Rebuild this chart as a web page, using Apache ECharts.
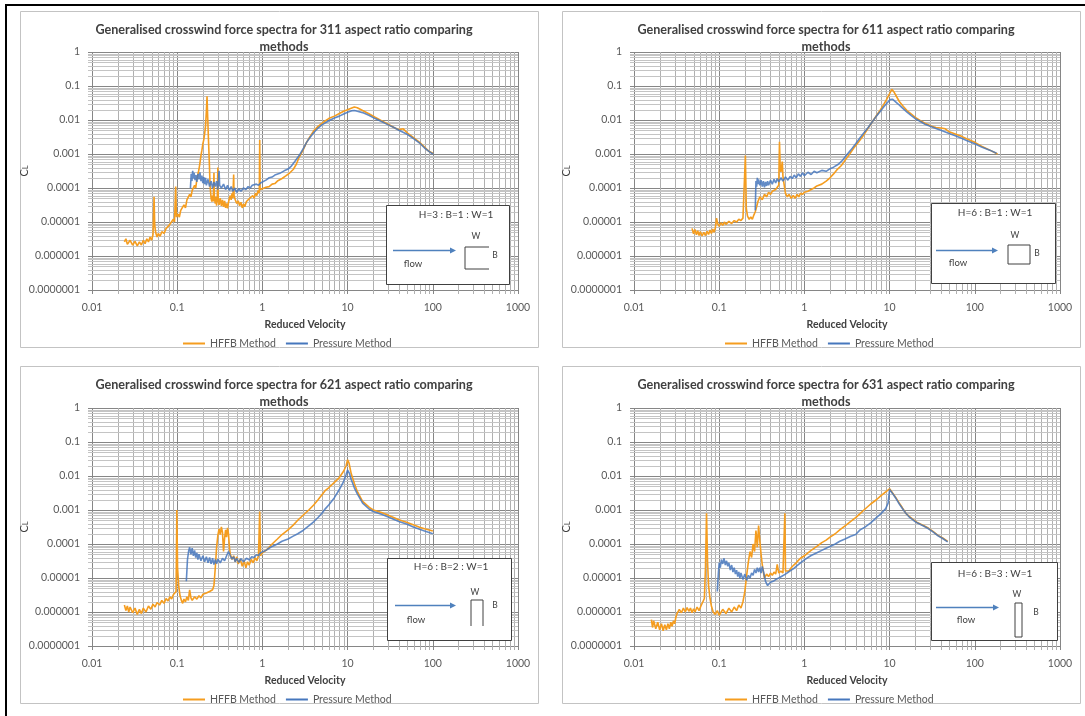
<!DOCTYPE html>
<html><head><meta charset="utf-8">
<script src="https://cdn.jsdelivr.net/npm/echarts@6/dist/echarts.min.js"></script>
<style>html,body{margin:0;padding:0;background:#fff}#c{width:1085px;height:716px}</style>
</head><body><div id="c"></div>
<script>
// ---------------- data ----------------
const xTickLabels = ['0.01','0.1','1','10','100','1000'];
const yTickLabels = ['0.0000001','0.000001','0.00001','0.0001','0.001','0.01','0.1','1'];
const legendNames = ['HFFB Method','Pressure Method'];
const panelTitles = [
  'Generalised crosswind force spectra for 311 aspect ratio comparing\nmethods',
  'Generalised crosswind force spectra for 611 aspect ratio comparing\nmethods',
  'Generalised crosswind force spectra for 621 aspect ratio comparing\nmethods',
  'Generalised crosswind force spectra for 631 aspect ratio comparing\nmethods'
];
const ratioLabels = ['H=3 : B=1 : W=1','H=6 : B=1 : W=1','H=6 : B=2 : W=1','H=6 : B=3 : W=1'];

const p1Hffb = [[0.024,2.6e-6],[0.025,3.2e-6],[0.026,2.2e-6],[0.028,2.9e-6],[0.030,2.1e-6],[0.032,2.7e-6],[0.034,2.0e-6],[0.036,2.6e-6],[0.038,2.1e-6],[0.040,2.9e-6],[0.042,2.3e-6],[0.044,3.2e-6],[0.046,2.6e-6],[0.048,3.6e-6],[0.050,2.9e-6],[0.052,4.2e-6],[0.0535,5.5e-5],[0.0545,8e-6],[0.056,4.8e-6],[0.058,3.6e-6],[0.060,4.6e-6],[0.063,3.8e-6],[0.066,5.2e-6],[0.070,4.6e-6],[0.074,6.4e-6],[0.078,5.8e-6],[0.082,8.5e-6],[0.086,7.5e-6],[0.090,1.2e-5],[0.093,1.0e-5],[0.096,1.1e-4],[0.098,1.4e-5],[0.102,1.7e-5],[0.106,1.4e-5],[0.110,2.2e-5],[0.115,2.0e-5],[0.120,3.2e-5],[0.125,2.6e-5],[0.130,4.5e-5],[0.135,4.0e-5],[0.140,6.5e-5],[0.145,5.5e-5],[0.150,8.5e-5],[0.155,7.5e-5],[0.160,1.2e-4],[0.165,1.0e-4],[0.170,1.8e-4],[0.175,2.5e-4],[0.180,3.5e-4],[0.185,5.5e-4],[0.190,9e-4],[0.195,1.3e-3],[0.200,2.0e-3],[0.205,2.6e-3],[0.210,4.0e-3],[0.215,6.5e-3],[0.220,0.018],[0.224,0.05],[0.228,0.012],[0.233,2.5e-3],[0.238,6e-4],[0.243,1.2e-4],[0.250,5e-5],[0.255,4e-5],[0.260,6e-5],[0.265,4e-5],[0.270,2.8e-4],[0.273,5e-5],[0.280,3.5e-5],[0.285,5.5e-5],[0.290,3e-5],[0.295,4.5e-5],[0.300,4.0e-4],[0.303,5e-5],[0.310,3.2e-5],[0.320,5e-5],[0.330,3.0e-5],[0.340,4.5e-5],[0.350,2.8e-5],[0.360,4.2e-5],[0.370,2.6e-5],[0.380,3.5e-5],[0.390,2.5e-5],[0.400,3.8e-5],[0.410,5e-5],[0.420,6e-5],[0.430,4.5e-5],[0.440,7e-5],[0.450,5e-5],[0.460,2.5e-4],[0.465,6e-5],[0.480,4.5e-5],[0.500,3.5e-5],[0.520,4.2e-5],[0.540,3.0e-5],[0.560,3.8e-5],[0.580,2.6e-5],[0.600,3.4e-5],[0.620,2.8e-5],[0.650,4e-5],[0.680,3.5e-5],[0.710,5e-5],[0.740,4.5e-5],[0.770,6e-5],[0.800,5e-5],[0.830,7e-5],[0.860,6e-5],[0.890,8.5e-5],[0.920,7e-5],[0.930,2.6e-3],[0.940,9e-5],[0.970,8e-5],[1.0,9.5e-5],[1.05,8.5e-5],[1.1,1.05e-4],[1.2,1.1e-4],[1.3,1.3e-4],[1.4,1.35e-4],[1.5,1.6e-4],[1.7,1.9e-4],[1.9,2.3e-4],[2.1,2.8e-4],[2.3,3.5e-4],[2.5,5e-4],[2.7,8e-4],[3.0,1.3e-3],[3.3,2.2e-3],[3.6,3.2e-3],[4.0,4.8e-3],[4.5,6.5e-3],[5.0,8e-3],[5.5,9.5e-3],[6.0,0.011],[7.0,0.013],[8.0,0.0155],[9.0,0.018],[10,0.02],[11,0.022],[12,0.024],[13,0.023],[15,0.019],[18,0.015],[21,0.012],[25,0.0095],[30,0.0075],[35,0.006],[40,0.0052],[45,0.0055],[50,0.0042],[60,0.003],[70,0.0022],[80,0.0016],[90,0.0012],[100,0.00105]];

const p1Press = [[0.143,1.0e-4],[0.146,2.6e-4],[0.149,1.6e-4],[0.152,3.2e-4],[0.155,1.9e-4],[0.158,2.8e-4],[0.162,1.7e-4],[0.166,2.4e-4],[0.170,1.5e-4],[0.175,2.6e-4],[0.180,1.8e-4],[0.185,2.9e-4],[0.190,1.6e-4],[0.195,2.3e-4],[0.200,1.4e-4],[0.205,2.1e-4],[0.210,1.3e-4],[0.215,2.0e-4],[0.220,1.2e-4],[0.230,1.8e-4],[0.240,1.1e-4],[0.250,1.6e-4],[0.260,1.0e-4],[0.270,1.5e-4],[0.280,1.1e-4],[0.290,1.6e-4],[0.300,9e-5],[0.310,3.2e-4],[0.315,1.2e-4],[0.330,1.0e-4],[0.350,1.3e-4],[0.370,9e-5],[0.390,1.2e-4],[0.410,8.5e-5],[0.430,1.1e-4],[0.450,8e-5],[0.470,1.0e-4],[0.500,7.5e-5],[0.530,9.5e-5],[0.560,8e-5],[0.600,1.0e-4],[0.640,9e-5],[0.680,1.1e-4],[0.720,1.0e-4],[0.760,1.2e-4],[0.800,1.1e-4],[0.850,1.3e-4],[0.900,1.2e-4],[0.950,1.4e-4],[1.0,1.5e-4],[1.1,1.7e-4],[1.2,2.0e-4],[1.3,2.1e-4],[1.4,2.4e-4],[1.6,2.7e-4],[1.8,3.2e-4],[2.0,3.6e-4],[2.2,4.5e-4],[2.4,6e-4],[2.7,9e-4],[3.0,1.4e-3],[3.3,2.2e-3],[3.6,3.0e-3],[4.0,4.2e-3],[4.5,5.8e-3],[5.0,7.2e-3],[6.0,9.5e-3],[7.0,0.0115],[8.0,0.013],[9.0,0.015],[10,0.017],[11,0.0185],[12,0.019],[13,0.018],[15,0.0165],[18,0.0135],[21,0.011],[25,0.009],[30,0.0072],[35,0.006],[40,0.005],[50,0.0038],[60,0.0028],[70,0.0021],[80,0.0015],[90,0.0012],[100,0.001]];

const p2Hffb = [[0.048,6.5e-6],[0.050,4.5e-6],[0.052,6.0e-6],[0.054,4.2e-6],[0.056,5.5e-6],[0.058,4.0e-6],[0.060,5.2e-6],[0.063,3.9e-6],[0.066,5.0e-6],[0.069,4.0e-6],[0.072,5.3e-6],[0.075,4.3e-6],[0.078,5.8e-6],[0.081,4.6e-6],[0.084,6.2e-6],[0.087,5.0e-6],[0.090,6.5e-6],[0.093,1.3e-5],[0.096,9e-6],[0.100,7.5e-6],[0.105,9.5e-6],[0.110,8e-6],[0.115,1.0e-5],[0.120,8.5e-6],[0.130,1.05e-5],[0.140,9e-6],[0.150,1.1e-5],[0.160,1.0e-5],[0.170,1.2e-5],[0.180,1.1e-5],[0.190,1.3e-5],[0.198,1.4e-5],[0.203,9e-4],[0.208,2.5e-5],[0.215,1.5e-5],[0.225,1.2e-5],[0.235,1.4e-5],[0.245,1.2e-5],[0.255,1.6e-5],[0.265,2.0e-5],[0.275,2.8e-5],[0.285,4e-5],[0.300,5.5e-5],[0.320,4.5e-5],[0.340,6.5e-5],[0.360,5.5e-5],[0.380,7.5e-5],[0.400,6.5e-5],[0.420,8e-5],[0.440,7e-5],[0.460,9e-5],[0.480,8e-5],[0.500,1.2e-4],[0.510,2.3e-3],[0.520,4e-4],[0.530,3e-4],[0.550,6e-4],[0.560,2.2e-4],[0.580,1.2e-4],[0.600,7e-5],[0.630,5.5e-5],[0.660,6.5e-5],[0.700,5e-5],[0.740,6e-5],[0.780,5e-5],[0.820,6.5e-5],[0.860,5.5e-5],[0.900,7e-5],[0.950,6.5e-5],[1.0,7.5e-5],[1.1,8e-5],[1.2,9e-5],[1.3,1.0e-4],[1.4,1.15e-4],[1.6,1.3e-4],[1.8,1.6e-4],[2.0,2.0e-4],[2.2,2.6e-4],[2.4,3.4e-4],[2.7,4.5e-4],[3.0,6.5e-4],[3.4,1.0e-3],[3.8,1.5e-3],[4.3,2.2e-3],[4.8,3.2e-3],[5.4,5.0e-3],[6.0,7.5e-3],[6.8,0.012],[7.6,0.018],[8.4,0.027],[9.2,0.04],[10.0,0.06],[10.6,0.08],[11.2,0.068],[12,0.05],[13,0.035],[14.5,0.025],[16,0.019],[18,0.015],[20,0.012],[23,0.0095],[26,0.008],[30,0.0068],[35,0.006],[40,0.0058],[45,0.0055],[50,0.0045],[60,0.0038],[70,0.0033],[80,0.0028],[100,0.0022],[120,0.0017],[150,0.0013],[185,0.001]];

const p2Press = [[0.265,2.2e-5],[0.270,1.6e-4],[0.275,1.1e-4],[0.280,2.0e-4],[0.285,1.3e-4],[0.290,1.8e-4],[0.300,1.2e-4],[0.310,1.7e-4],[0.320,1.1e-4],[0.330,1.6e-4],[0.340,1.05e-4],[0.350,1.5e-4],[0.360,1.15e-4],[0.370,1.6e-4],[0.380,1.2e-4],[0.400,1.7e-4],[0.420,1.3e-4],[0.440,1.8e-4],[0.460,1.4e-4],[0.480,1.9e-4],[0.500,1.5e-4],[0.530,2.0e-4],[0.560,1.6e-4],[0.600,2.1e-4],[0.640,1.7e-4],[0.680,2.2e-4],[0.720,1.9e-4],[0.760,2.4e-4],[0.800,2.0e-4],[0.850,2.6e-4],[0.900,2.2e-4],[0.950,2.8e-4],[1.0,2.3e-4],[1.1,2.9e-4],[1.2,2.5e-4],[1.3,3.1e-4],[1.4,2.8e-4],[1.6,3.3e-4],[1.8,3.1e-4],[2.0,3.7e-4],[2.2,4.1e-4],[2.5,5e-4],[2.8,6.5e-4],[3.1,9e-4],[3.5,1.3e-3],[4.0,2.0e-3],[4.5,3.0e-3],[5.0,4.2e-3],[5.6,6e-3],[6.3,9e-3],[7.0,0.013],[7.8,0.018],[8.6,0.025],[9.4,0.032],[10.2,0.04],[10.8,0.041],[11.5,0.036],[12.5,0.03],[14,0.023],[16,0.017],[18,0.0135],[20,0.011],[23,0.009],[26,0.0075],[30,0.0065],[35,0.0056],[40,0.005],[50,0.004],[60,0.0034],[70,0.0029],[80,0.0025],[100,0.002],[120,0.0016],[150,0.0013],[180,0.00105]];

const p3Hffb = [[0.024,1.6e-6],[0.025,1.1e-6],[0.026,1.5e-6],[0.027,1.0e-6],[0.028,1.4e-6],[0.030,9.5e-7],[0.032,1.3e-6],[0.034,8.5e-7],[0.036,1.2e-6],[0.038,9e-7],[0.040,1.3e-6],[0.043,1.0e-6],[0.046,1.5e-6],[0.049,1.2e-6],[0.052,1.7e-6],[0.055,1.4e-6],[0.058,1.9e-6],[0.062,1.6e-6],[0.066,2.2e-6],[0.070,1.8e-6],[0.074,2.5e-6],[0.078,2.1e-6],[0.082,2.8e-6],[0.086,2.4e-6],[0.090,3.2e-6],[0.094,2.8e-6],[0.097,4e-6],[0.099,1.0e-3],[0.101,2e-5],[0.104,6e-6],[0.108,3e-6],[0.112,2.2e-6],[0.116,1.8e-6],[0.120,2.4e-6],[0.125,2.0e-6],[0.130,2.8e-6],[0.135,2.2e-6],[0.140,4.5e-6],[0.145,2.6e-6],[0.150,2.2e-6],[0.160,2.8e-6],[0.170,2.4e-6],[0.180,3.0e-6],[0.190,2.6e-6],[0.200,3.3e-6],[0.210,2.9e-6],[0.220,3.6e-6],[0.230,3.2e-6],[0.240,4.0e-6],[0.250,3.6e-6],[0.260,4.5e-6],[0.270,6e-6],[0.280,2e-5],[0.290,8e-5],[0.300,1.8e-4],[0.310,2.8e-4],[0.320,1.9e-4],[0.330,3.2e-4],[0.340,2.2e-4],[0.350,6e-5],[0.360,1.5e-4],[0.370,2.6e-4],[0.380,1.6e-4],[0.390,3.0e-4],[0.400,2.0e-4],[0.410,8e-5],[0.420,5e-5],[0.440,3.5e-5],[0.460,4.5e-5],[0.480,3.0e-5],[0.500,4.2e-5],[0.520,2.6e-5],[0.550,3.6e-5],[0.580,2.2e-5],[0.610,3.2e-5],[0.640,2.0e-5],[0.670,3.0e-5],[0.700,2.4e-5],[0.740,3.5e-5],[0.780,2.8e-5],[0.820,4e-5],[0.860,3.2e-5],[0.900,4.5e-5],[0.930,9e-4],[0.950,4.5e-5],[1.0,5.5e-5],[1.1,6.5e-5],[1.2,8e-5],[1.3,1.0e-4],[1.5,1.4e-4],[1.7,1.9e-4],[2.0,2.6e-4],[2.3,3.6e-4],[2.6,5e-4],[3.0,7e-4],[3.5,1.0e-3],[4.0,1.4e-3],[4.5,2.0e-3],[5.0,2.8e-3],[5.5,3.8e-3],[6.0,4.5e-3],[7.0,6.5e-3],[8.0,0.009],[9.0,0.014],[9.6,0.02],[10.0,0.03],[10.4,0.024],[11,0.012],[12,0.006],[13,0.0035],[15,0.0018],[18,0.0012],[20,0.001],[25,0.00085],[30,0.0007],[40,0.00052],[50,0.00043],[60,0.00036],[70,0.00031],[80,0.00028],[100,0.00024]];

const p3Press = [[0.128,8e-6],[0.132,3.5e-5],[0.136,6e-5],[0.140,8e-5],[0.145,5e-5],[0.150,7.5e-5],[0.155,4.5e-5],[0.160,6.5e-5],[0.165,4e-5],[0.170,5.5e-5],[0.175,3.5e-5],[0.180,5e-5],[0.190,3.2e-5],[0.200,4.5e-5],[0.210,3.0e-5],[0.220,4.2e-5],[0.230,2.8e-5],[0.240,4.0e-5],[0.250,2.6e-5],[0.260,3.8e-5],[0.270,2.5e-5],[0.280,3.5e-5],[0.290,2.6e-5],[0.300,3.6e-5],[0.320,2.8e-5],[0.340,3.8e-5],[0.360,3.2e-5],[0.380,4.5e-5],[0.400,6e-5],[0.420,4.5e-5],[0.440,3.6e-5],[0.460,4.2e-5],[0.480,3.0e-5],[0.500,3.8e-5],[0.530,2.9e-5],[0.560,3.7e-5],[0.600,3.0e-5],[0.650,3.8e-5],[0.700,3.4e-5],[0.750,4.2e-5],[0.800,4.0e-5],[0.850,4.8e-5],[0.900,4.6e-5],[0.950,5.5e-5],[1.0,5.5e-5],[1.1,6.5e-5],[1.2,7.5e-5],[1.3,8.5e-5],[1.5,1.0e-4],[1.7,1.2e-4],[2.0,1.4e-4],[2.3,1.7e-4],[2.6,2.0e-4],[3.0,2.5e-4],[3.5,3.4e-4],[4.0,4.5e-4],[4.5,6e-4],[5.0,8e-4],[5.5,1.1e-3],[6.0,1.4e-3],[7.0,2.3e-3],[8.0,4e-3],[9.0,7e-3],[9.6,0.011],[10.0,0.015],[10.5,0.012],[11,0.008],[12,0.0045],[13,0.003],[15,0.0016],[18,0.00105],[20,0.0009],[25,0.00075],[30,0.00062],[40,0.00046],[50,0.00038],[60,0.00031],[70,0.00027],[80,0.00024],[100,0.0002]];

const p4Hffb = [[0.016,6e-7],[0.0165,3.5e-7],[0.017,5.5e-7],[0.018,3.2e-7],[0.019,5e-7],[0.020,3e-7],[0.021,4.5e-7],[0.022,2.8e-7],[0.023,4.2e-7],[0.024,3e-7],[0.025,4.5e-7],[0.026,3.2e-7],[0.027,5e-7],[0.028,3.8e-7],[0.029,5.5e-7],[0.030,4.5e-7],[0.031,7e-7],[0.032,9e-7],[0.034,1.2e-6],[0.036,9.5e-7],[0.038,1.3e-6],[0.040,1.0e-6],[0.042,1.35e-6],[0.044,1.05e-6],[0.046,1.3e-6],[0.048,9.5e-7],[0.050,1.25e-6],[0.052,1.0e-6],[0.055,1.4e-6],[0.058,1.1e-6],[0.061,1.5e-6],[0.064,1.6e-6],[0.067,2.5e-6],[0.069,2e-5],[0.071,8e-4],[0.073,3e-5],[0.075,6e-6],[0.078,2.5e-6],[0.081,1.5e-6],[0.085,1.0e-6],[0.090,8.5e-7],[0.095,1.1e-6],[0.100,8e-7],[0.110,1.2e-6],[0.120,9e-7],[0.130,1.3e-6],[0.140,1.0e-6],[0.150,1.4e-6],[0.160,1.1e-6],[0.170,1.6e-6],[0.180,1.3e-6],[0.190,2e-6],[0.200,4e-6],[0.210,1.2e-5],[0.220,3e-5],[0.230,6e-5],[0.240,4e-5],[0.250,1.0e-4],[0.260,6e-5],[0.270,2.5e-4],[0.280,8e-5],[0.290,3.5e-4],[0.300,1.2e-4],[0.310,5e-5],[0.320,2.5e-5],[0.330,1.5e-5],[0.340,1.0e-5],[0.360,1.3e-5],[0.380,1.1e-5],[0.400,1.4e-5],[0.420,1.2e-5],[0.440,1.5e-5],[0.460,1.3e-5],[0.480,2.5e-5],[0.500,1.4e-5],[0.530,1.6e-5],[0.560,1.4e-5],[0.590,8e-4],[0.600,1.6e-5],[0.630,1.8e-5],[0.660,1.6e-5],[0.700,2.0e-5],[0.750,2.4e-5],[0.800,2.8e-5],[0.850,3.3e-5],[0.900,3.8e-5],[1.0,4.5e-5],[1.1,5.5e-5],[1.2,6.5e-5],[1.4,8.5e-5],[1.6,1.1e-4],[1.8,1.3e-4],[2.0,1.6e-4],[2.3,2.0e-4],[2.6,2.6e-4],[3.0,3.4e-4],[3.5,4.6e-4],[4.0,6e-4],[4.5,7.8e-4],[5.0,1.0e-3],[6.0,1.5e-3],[7.0,2.0e-3],[8.0,2.7e-3],[9.0,3.4e-3],[10.0,4.2e-3],[11,3.0e-3],[12,2.2e-3],[13,1.6e-3],[14,1.2e-3],[15.5,8e-4],[17,6.5e-4],[19,5.2e-4],[21,4.3e-4],[25,3.5e-4],[28,3.0e-4],[32,2.4e-4],[37,1.8e-4],[42,1.5e-4],[48,1.2e-4]];

const p4Press = [[0.095,4e-6],[0.098,1.5e-5],[0.100,2.8e-5],[0.103,2.0e-5],[0.106,3.5e-5],[0.110,2.6e-5],[0.114,3.8e-5],[0.118,2.4e-5],[0.122,3.2e-5],[0.126,2.2e-5],[0.130,2.8e-5],[0.135,1.7e-5],[0.140,2.4e-5],[0.145,1.5e-5],[0.150,2.0e-5],[0.155,1.3e-5],[0.160,1.7e-5],[0.165,1.1e-5],[0.170,1.5e-5],[0.175,1.0e-5],[0.180,1.4e-5],[0.190,9e-6],[0.200,1.3e-5],[0.210,8.5e-6],[0.220,1.2e-5],[0.230,1.0e-5],[0.240,1.4e-5],[0.250,1.2e-5],[0.260,1.8e-5],[0.270,1.4e-5],[0.280,2.0e-5],[0.290,1.5e-5],[0.300,2.0e-5],[0.310,1.4e-5],[0.320,2.2e-5],[0.330,1.6e-5],[0.340,1.1e-5],[0.350,8e-6],[0.360,7e-6],[0.370,6e-6],[0.380,6.5e-6],[0.400,7.5e-6],[0.430,8e-6],[0.460,9e-6],[0.500,1.0e-5],[0.550,1.15e-5],[0.600,1.3e-5],[0.650,1.5e-5],[0.700,1.7e-5],[0.750,1.9e-5],[0.800,2.2e-5],[0.900,2.8e-5],[1.0,3.4e-5],[1.1,4.0e-5],[1.2,4.6e-5],[1.4,5.5e-5],[1.6,6.5e-5],[1.8,7.5e-5],[2.0,8.5e-5],[2.3,1.0e-4],[2.6,1.2e-4],[3.0,1.4e-4],[3.5,1.7e-4],[4.0,1.9e-4],[4.5,2.6e-4],[5.0,3.0e-4],[6.0,4.2e-4],[7.0,6e-4],[8.0,8e-4],[9.0,1.1e-3],[9.6,1.6e-3],[10.0,4.0e-3],[11,2.9e-3],[12,2.1e-3],[13,1.5e-3],[14,1.15e-3],[15.5,8e-4],[17,6.2e-4],[19,5e-4],[21,4.2e-4],[25,3.4e-4],[28,2.9e-4],[32,2.3e-4],[37,1.75e-4],[42,1.45e-4],[48,1.15e-4]];

// ---------------- layout ----------------
const FONT = 'Lato, "Open Sans", "DejaVu Sans", sans-serif';
const ORANGE = '#F59D1F', BLUE = '#4677BD';
const PW = 426, PH = 238;
const panels = [
  {l:92,  t:52,  hffb:p1Hffb, press:p1Press, box:[20,11,518,336]},
  {l:634, t:52,  hffb:p2Hffb, press:p2Press, box:[562,11,518,336]},
  {l:92,  t:408, hffb:p3Hffb, press:p3Press, box:[20,366,518,337]},
  {l:634, t:408, hffb:p4Hffb, press:p4Press, box:[562,366,518,337]}
];
const insets = [
  {dx:294,dy:153,w:123,h:79, tx:70,ty:10, wx:90,wy:31, ax1:7,ax2:70,ay:45, fx:27,fy:59, bx:109,by:50,
   shape:[[103,42],[79,42],[79,64],[103,64]]},
  {dx:297,dy:151,w:124,h:80, tx:64,ty:10, wx:84,wy:32, ax1:5,ax2:67,ay:47, fx:27,fy:60, bx:106,by:50,
   shape:[[77,42],[99,42],[99,61],[77,61],[77,42]]},
  {dx:295,dy:150,w:124,h:82, tx:64,ty:9,  wx:88,wy:34, ax1:8,ax2:69,ay:47, fx:29,fy:62, bx:108,by:47,
   shape:[[84,68],[84,42],[96,42],[96,68]]},
  {dx:297,dy:154,w:126,h:78, tx:64,ty:12, wx:86,wy:32, ax1:5,ax2:68,ay:45, fx:35,fy:58, bx:105,by:50,
   shape:[[84,41],[91,41],[91,75],[84,75],[84,41]]}
];

const grids=[], xAxes=[], yAxes=[], series=[], titles=[], legends=[], graphics=[];

graphics.push({type:'rect', shape:{x:5,y:4,width:1080,height:2}, style:{fill:'#000'}, z:200});
graphics.push({type:'rect', shape:{x:5,y:4,width:2,height:712}, style:{fill:'#000'}, z:200});

panels.forEach((p,i)=>{
  grids.push({left:p.l, top:p.t, width:PW, height:PH, containLabel:false});
  xAxes.push({
    type:'log', logBase:10, gridIndex:i, min:0.01, max:1000,
    name:'Reduced Velocity', nameLocation:'middle', nameGap:29,
    nameTextStyle:{fontFamily:FONT, fontSize:10.5, fontWeight:'bold', color:'#404040'},
    axisLine:{show:false},
    axisTick:{show:true, length:4, lineStyle:{color:'#868686'}},
    axisLabel:{fontFamily:FONT, fontSize:10.5, color:'#595959', margin:12,
      formatter:v=>xTickLabels[Math.round(Math.log10(v))+2]},
    splitLine:{show:true, lineStyle:{color:'#868686', width:1}}
  });
  yAxes.push({
    type:'log', logBase:10, gridIndex:i, min:1e-7, max:1,
    name:'{c|C}{s|L}', nameLocation:'middle', nameGap:62, nameRotate:90, nameMoveOverlap:false,
    nameTextStyle:{rich:{c:{fontFamily:FONT,fontSize:11,color:'#404040'}, s:{fontFamily:FONT,fontSize:7.5,color:'#404040',padding:[4,0,0,0]}}},
    axisLine:{show:false},
    axisTick:{show:true, length:4, lineStyle:{color:'#868686'}},
    axisLabel:{fontFamily:FONT, fontSize:10.5, color:'#595959', margin:12,
      formatter:v=>yTickLabels[Math.round(Math.log10(v))+7]},
    splitLine:{show:true, lineStyle:{color:'#868686', width:1}}
  });
  // minor log gridlines drawn through the axes' own scales
  series.push({
    type:'custom', coordinateSystem:'cartesian2d', xAxisIndex:i, yAxisIndex:i,
    silent:true, z:1, clip:false, animation:false, data:[[1,1e-3]],
    renderItem:(params, api)=>{
      const ch=[];
      for(let e=-2;e<3;e++) for(let m=2;m<=9;m++){
        const v=m*Math.pow(10,e);
        const a=api.coord([v,1]), b=api.coord([v,1e-7]);
        const x=Math.round(a[0])+0.5;
        ch.push({type:'line', shape:{x1:x,y1:a[1],x2:x,y2:b[1]+4}, style:{stroke:'#b0b0b0',lineWidth:1}});
      }
      for(let e=-7;e<0;e++) for(let m=2;m<=9;m++){
        const v=m*Math.pow(10,e);
        const a=api.coord([0.01,v]), b=api.coord([1000,v]);
        const y=Math.round(a[1])+0.5;
        ch.push({type:'line', shape:{x1:a[0]-4,y1:y,x2:b[0],y2:y}, style:{stroke:'#c4c4c4',lineWidth:1}});
      }
      return {type:'group', children:ch};
    }
  });
  series.push({name:legendNames[0], type:'line', xAxisIndex:i, yAxisIndex:i, data:p.hffb,
    showSymbol:false, symbol:'none', z:3, animation:false,
    lineStyle:{color:ORANGE, width:1.6}, itemStyle:{color:ORANGE}});
  series.push({name:legendNames[1], type:'line', xAxisIndex:i, yAxisIndex:i, data:p.press,
    showSymbol:false, symbol:'none', z:4, animation:false,
    lineStyle:{color:BLUE, width:1.6, opacity:0.85}, itemStyle:{color:BLUE}});

  const bx=p.box;
  titles.push({text:panelTitles[i], left:bx[0]+bx[2]/2, top:bx[1]+5, textAlign:'center',
    textStyle:{fontFamily:FONT, fontSize:12.6, fontWeight:'bold', color:'#404040', lineHeight:17}});
  legends.push({data:legendNames, left:p.l+86, top:p.t+PH+43, itemWidth:22, itemHeight:2, itemGap:10,
    icon:'rect', selectedMode:false,
    textStyle:{fontFamily:FONT, fontSize:10.5, color:'#595959'}});
  graphics.push({type:'rect', shape:{x:bx[0]+0.5,y:bx[1]+0.5,width:bx[2],height:bx[3]},
    style:{fill:'none', stroke:'#c3c3c3', lineWidth:1}, z:0, silent:true});

  const L=insets[i];
  graphics.push({type:'group', x:p.l+L.dx, y:p.t+L.dy, z:100, children:[
    {type:'rect', shape:{x:0.5,y:0.5,width:L.w,height:L.h}, style:{fill:'#fff', stroke:'#404040', lineWidth:1}, z:100},
    {type:'text', x:L.tx, y:L.ty, z:101, style:{text:ratioLabels[i], fontFamily:FONT, fontSize:10, fill:'#404040', align:'center', verticalAlign:'middle'}},
    {type:'line', shape:{x1:L.ax1,y1:L.ay+0.5,x2:L.ax2-5,y2:L.ay+0.5}, style:{stroke:'#4F81BD', lineWidth:1.3}, z:101},
    {type:'polygon', shape:{points:[[L.ax2,L.ay+0.5],[L.ax2-6,L.ay-2.5],[L.ax2-6,L.ay+3.5]]}, style:{fill:'#4F81BD'}, z:101},
    {type:'text', x:L.fx, y:L.fy, z:101, style:{text:'flow', fontFamily:FONT, fontSize:9.5, fill:'#404040', align:'center', verticalAlign:'middle'}},
    {type:'text', x:L.wx, y:L.wy, z:101, style:{text:'W', fontFamily:FONT, fontSize:8.5, fill:'#404040', align:'center', verticalAlign:'middle'}},
    {type:'text', x:L.bx, y:L.by, z:101, style:{text:'B', fontFamily:FONT, fontSize:8.5, fill:'#404040', align:'center', verticalAlign:'middle'}},
    {type:'polyline', shape:{points:L.shape}, style:{stroke:'#404040', fill:null, lineWidth:1}, z:101}
  ]});
});

const chart = echarts.init(document.getElementById('c'), null, {renderer:'canvas'});
chart.setOption({
  backgroundColor:'#ffffff',
  animation:false,
  title:titles, legend:legends, grid:grids, xAxis:xAxes, yAxis:yAxes,
  series:series, graphic:{elements:graphics}
});
</script>
</body></html>
